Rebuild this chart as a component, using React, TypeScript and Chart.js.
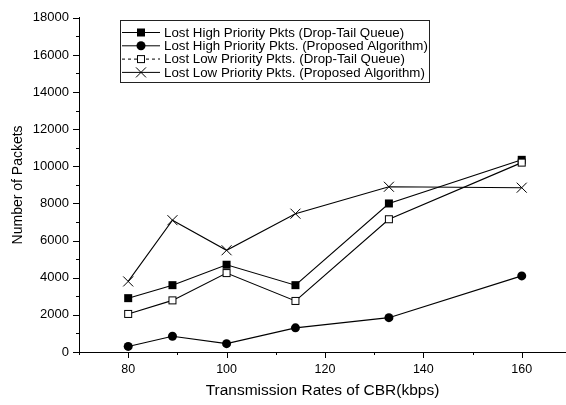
import React, { useEffect, useRef } from 'react';
import { Chart, registerables } from 'chart.js';

Chart.register(...registerables);

const rates = [80, 89, 100, 114, 133, 160];
const highDropTail = [2900, 3600, 4700, 3600, 8000, 10350];
const highProposed = [300, 850, 450, 1300, 1850, 4100];
const lowDropTail = [2050, 2780, 4250, 2750, 7150, 10200];
const lowProposed = [3800, 7100, 5480, 7450, 8900, 8850];
const seriesLabels = [
  'Lost High Priority Pkts (Drop-Tail Queue)',
  'Lost High Priority Pkts. (Proposed Algorithm)',
  'Lost Low Priority Pkts. (Drop-Tail Queue)',
  'Lost Low Priority Pkts. (Proposed Algorithm)',
];
const xTickLabels = [80, 100, 120, 140, 160];
const yTickLabels = [0, 2000, 4000, 6000, 8000, 10000, 12000, 14000, 16000, 18000];
const xTitle = 'Transmission Rates of CBR(kbps)';
const yTitle = 'Number of Packets';

const FONT = '"Liberation Sans", Arial, Helvetica, sans-serif';
const W = 566;
const H = 405;

type Marker = 'filledSquare' | 'filledCircle' | 'openSquare' | 'cross';
const markers: Marker[] = ['filledSquare', 'filledCircle', 'openSquare', 'cross'];
const legendDash: number[][] = [[], [], [3, 3], []];

function drawMarker(ctx: CanvasRenderingContext2D, m: Marker, x: number, y: number) {
  ctx.save();
  ctx.strokeStyle = '#000';
  ctx.fillStyle = '#000';
  ctx.lineWidth = 1;
  ctx.setLineDash([]);
  if (m === 'filledSquare') {
    ctx.fillRect(x - 4, y - 4, 8, 8);
  } else if (m === 'filledCircle') {
    ctx.beginPath();
    ctx.arc(x, y, 4.5, 0, Math.PI * 2);
    ctx.fill();
  } else if (m === 'openSquare') {
    ctx.fillStyle = '#fff';
    ctx.fillRect(x - 3.5, y - 3.5, 7, 7);
    ctx.strokeRect(x - 3.5, y - 3.5, 7, 7);
  } else {
    ctx.beginPath();
    ctx.moveTo(x - 5, y - 5);
    ctx.lineTo(x + 5, y + 5);
    ctx.moveTo(x + 5, y - 5);
    ctx.lineTo(x - 5, y + 5);
    ctx.stroke();
  }
  ctx.restore();
}

const decorPlugin = {
  id: 'decor',
  afterDraw(chart: any) {
    const ctx: CanvasRenderingContext2D = chart.ctx;
    const xs = chart.scales.x;
    const ys = chart.scales.y;
    const area = chart.chartArea;
    ctx.save();
    ctx.strokeStyle = '#000';
    ctx.lineWidth = 1;
    // x tick marks
    xs.ticks.forEach((t: any) => {
      const px = Math.round(xs.getPixelForValue(t.value)) + 0.5;
      const len = t.value % 20 === 0 ? 6 : 3;
      ctx.beginPath();
      ctx.moveTo(px, area.bottom);
      ctx.lineTo(px, area.bottom + len);
      ctx.stroke();
    });
    // y tick marks
    ys.ticks.forEach((t: any) => {
      const py = Math.round(ys.getPixelForValue(t.value)) + 0.5;
      const len = t.value % 2000 === 0 ? 6 : 3;
      ctx.beginPath();
      ctx.moveTo(area.left, py);
      ctx.lineTo(area.left - len, py);
      ctx.stroke();
    });
    // legend
    const bx = 120.5, by = 20.5, bw = 309, bh = 62;
    ctx.fillStyle = '#fff';
    ctx.fillRect(bx, by, bw, bh);
    ctx.strokeStyle = '#222';
    ctx.strokeRect(bx, by, bw, bh);
    ctx.font = `13.3px ${FONT}`;
    ctx.textBaseline = 'middle';
    ctx.textAlign = 'left';
    seriesLabels.forEach((label, i) => {
      const ry = 32 + i * 13.3;
      ctx.strokeStyle = '#000';
      ctx.setLineDash(legendDash[i]);
      ctx.beginPath();
      ctx.moveTo(122, ry + 0.5);
      ctx.lineTo(160, ry + 0.5);
      ctx.stroke();
      ctx.setLineDash([]);
      drawMarker(ctx, markers[i], 141, ry + 0.5);
      ctx.fillStyle = '#000';
      ctx.fillText(label, 164, ry + 1);
    });
    ctx.restore();
  },
};

const markerPlugin = {
  id: 'markers',
  afterDatasetsDraw(chart: any) {
    const ctx: CanvasRenderingContext2D = chart.ctx;
    chart.data.datasets.forEach((ds: any, i: number) => {
      const meta = chart.getDatasetMeta(i);
      meta.data.forEach((pt: any) => {
        drawMarker(ctx, markers[i], pt.x, pt.y);
      });
    });
  },
};

function toPoints(vals: number[]) {
  return rates.map((r, i) => ({ x: r, y: vals[i] }));
}

export default function App() {
  const ref = useRef<HTMLCanvasElement | null>(null);
  useEffect(() => {
    const canvas = ref.current;
    if (!canvas) return;
    const allSeries = [highDropTail, highProposed, lowDropTail, lowProposed];
    const chart = new Chart(canvas, {
      type: 'line',
      data: {
        datasets: allSeries.map((vals, i) => ({
          label: seriesLabels[i],
          data: toPoints(vals),
          borderColor: '#000',
          borderWidth: 1.1,
          pointRadius: 0,
          pointHoverRadius: 0,
          tension: 0,
          fill: false,
          clip: false as any,
        })),
      },
      options: {
        animation: false,
        responsive: false,
        devicePixelRatio: 1,
        events: [],
        layout: { padding: { top: 12, right: 0, left: 0, bottom: 0 } },
        plugins: {
          legend: { display: false },
          tooltip: { enabled: false },
          title: { display: false },
        },
        scales: {
          x: {
            type: 'linear',
            min: 70,
            max: 169,
            grid: { display: false, drawTicks: false },
            border: { display: true, color: '#000', width: 1 },
            ticks: {
              stepSize: 10,
              includeBounds: false,
              autoSkip: false,
              maxRotation: 0,
              padding: 10,
              color: '#000',
              font: { family: FONT, size: 12.5 },
              callback: (v: any) => (xTickLabels.includes(Number(v)) ? String(v) : ''),
            },
            title: {
              display: true,
              text: xTitle,
              color: '#000',
              font: { family: FONT, size: 15.5 },
              padding: { top: 0, bottom: 5 },
            },
            afterFit: (scale: any) => {
              scale.height = 53;
            },
          },
          y: {
            type: 'linear',
            min: 0,
            max: 18000,
            grid: { display: false, drawTicks: false },
            border: { display: true, color: '#000', width: 1 },
            ticks: {
              stepSize: 1000,
              autoSkip: false,
              padding: 10,
              color: '#000',
              font: { family: FONT, size: 13 },
              callback: (v: any) => (yTickLabels.includes(Number(v)) ? String(v) : ''),
            },
            title: {
              display: true,
              text: yTitle,
              color: '#000',
              font: { family: FONT, size: 14 },
              padding: { top: 10, bottom: 0 },
            },
            afterFit: (scale: any) => {
              scale.width = 79;
            },
          },
        },
      },
      plugins: [markerPlugin, decorPlugin],
    });
    return () => chart.destroy();
  }, []);
  return (
    <div style={{ position: 'fixed', left: 0, top: 0, width: W, height: H, background: '#fff' }}>
      <canvas ref={ref} width={W} height={H} style={{ display: 'block', width: W, height: H }} />
    </div>
  );
}
